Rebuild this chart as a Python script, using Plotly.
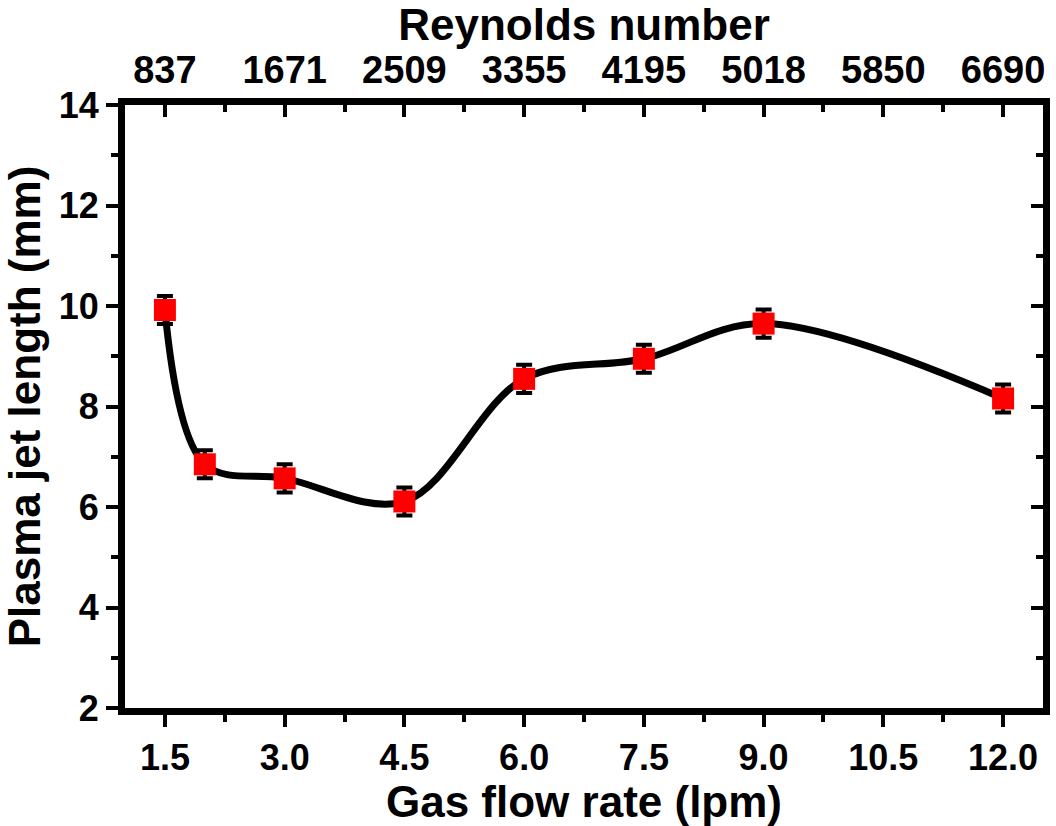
import plotly.graph_objects as go

# Gas flow rate (lpm) and measured plasma jet length (mm)
flow_rate = [1.5, 2.0, 3.0, 4.5, 6.0, 7.5, 9.0, 12.0]
jet_length = [9.92, 6.85, 6.57, 6.11, 8.55, 8.95, 9.65, 8.16]
jet_error = [0.28, 0.28, 0.28, 0.28, 0.28, 0.28, 0.28, 0.28]

# Reynolds number corresponding to the bottom-axis ticks
flow_ticks = [1.5, 3.0, 4.5, 6.0, 7.5, 9.0, 10.5, 12.0]
reynolds_labels = ["837", "1671", "2509", "3355", "4195", "5018", "5850", "6690"]

FONT = "Liberation Sans"
X_RANGE = [1.0, 12.5]
Y_RANGE = [2, 14]

fig = go.Figure()

# smooth connecting curve
fig.add_trace(go.Scatter(
    x=flow_rate, y=jet_length, mode="lines",
    line=dict(color="black", width=7, shape="spline", smoothing=1.0),
    hoverinfo="skip", showlegend=False,
))

# markers with error bars
fig.add_trace(go.Scatter(
    x=flow_rate, y=jet_length, mode="markers",
    marker=dict(symbol="square", size=22, color="#ff0000", line=dict(width=0)),
    error_y=dict(type="data", array=jet_error, color="black", thickness=4, width=8),
    showlegend=False,
))

# invisible trace so the top/right axes are laid out
fig.add_trace(go.Scatter(
    x=[flow_ticks[0]], y=[jet_length[0]], xaxis="x2", yaxis="y2",
    mode="markers", marker=dict(opacity=0), hoverinfo="skip", showlegend=False,
))

tick_font = dict(family=FONT, size=36, color="black", weight="bold")
top_tick_font = dict(family=FONT, size=38, color="black", weight="bold")
title_font = dict(family=FONT, size=44, color="black", weight="bold")

common = dict(showgrid=False, zeroline=False, showline=True, linecolor="black",
              linewidth=7, tickcolor="black", tickwidth=4)

fig.update_layout(
    width=1056, height=826,
    paper_bgcolor="white", plot_bgcolor="white",
    margin=dict(l=125, r=11, t=105, b=108),
    xaxis=dict(
        range=X_RANGE, tickmode="array", tickvals=flow_ticks,
        ticktext=[f"{v:.1f}" for v in flow_ticks],
        ticks="outside", ticklen=12, tickfont=tick_font,
        minor=dict(tickmode="linear", tick0=0.75, dtick=0.75, ticks="outside",
                   ticklen=7, tickwidth=4, tickcolor="black"),
        title=dict(text="Gas flow rate (lpm)", font=title_font, standoff=6),
        **common,
    ),
    xaxis2=dict(
        range=X_RANGE, overlaying="x", side="top", anchor="y",
        tickmode="array", tickvals=flow_ticks, ticktext=reynolds_labels,
        ticks="inside", ticklen=12, tickfont=top_tick_font,
        minor=dict(tickmode="linear", tick0=0.75, dtick=0.75, ticks="inside",
                   ticklen=7, tickwidth=4, tickcolor="black"),
        title=dict(text="Reynolds number", font=title_font, standoff=4),
        **common,
    ),
    yaxis=dict(
        range=Y_RANGE, tickmode="linear", tick0=2, dtick=2,
        ticks="outside", ticklen=12, tickfont=tick_font,
        minor=dict(tickmode="linear", tick0=1, dtick=1, ticks="outside",
                   ticklen=7, tickwidth=4, tickcolor="black"),
        title=dict(text="Plasma jet length (mm)", font=title_font, standoff=8),
        **common,
    ),
    yaxis2=dict(
        range=Y_RANGE, overlaying="y", side="right", anchor="x",
        tickmode="linear", tick0=2, dtick=2, showticklabels=False,
        ticks="inside", ticklen=12,
        minor=dict(tickmode="linear", tick0=1, dtick=1, ticks="inside",
                   ticklen=7, tickwidth=4, tickcolor="black"),
        **common,
    ),
)

fig.write_html("out.html")
